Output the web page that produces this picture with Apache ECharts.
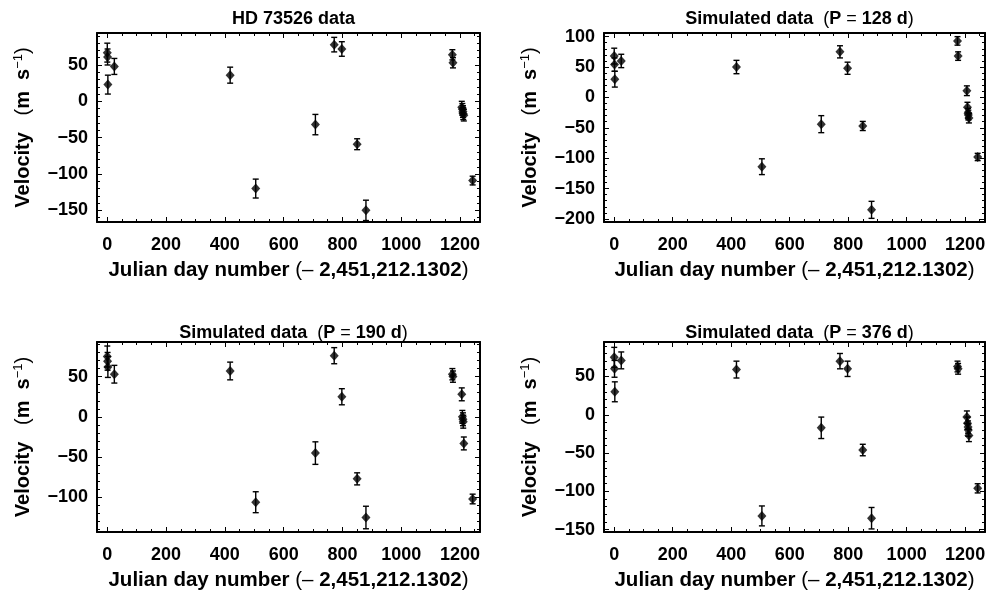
<!DOCTYPE html>
<html>
<head>
<meta charset="utf-8">
<script src="https://cdn.jsdelivr.net/npm/echarts@6/dist/echarts.min.js"></script>
<style>
html,body{margin:0;padding:0;background:#fff;}
#chart{width:991px;height:598px;}
</style>
</head>
<body>
<div id="chart"></div>
<script>
// ---- data ----
const days = [0, 1, 2, 24, 418, 505, 708, 772, 798, 850, 880, 1174, 1176, 1206, 1208, 1210, 1211, 1213, 1243];
const errors = [13, 11, 13, 11, 11, 13, 14, 10, 10, 7.5, 14, 7, 7, 8, 8, 8, 8, 8, 6];
const velHD  = [67, 61, 23, 48, 36, -120, -32, 78, 72, -59, -150, 64, 53, -8, -11, -14, -17, -19, -109];
const vel128 = [68, 54, 30, 60, 50, -114, -44, 75, 48, -47, -185, 93, 68, 11, -16, -26, -29, -34, -98];
const vel190 = [75, 69, 62, 53, 57, -106, -45, 76, 25, -77, -125, 53, 50, 28, 0, -3, -6, -33, -102];
const vel376 = [75, 60, 30, 71, 59, -132, -17, 70, 60, -46, -135, 63, 60, -3, -11, -16, -20, -27, -96];
const panelTitles = ['HD 73526 data', 'Simulated data (P = 128 d)', 'Simulated data (P = 190 d)', 'Simulated data (P = 376 d)'];
const periods = [null, '128', '190', '376'];
const xTickLabels = [0, 200, 400, 600, 800, 1000, 1200];
const yTickLabels = [
  [-150, -100, -50, 0, 50],
  [-200, -150, -100, -50, 0, 50, 100],
  [-100, -50, 0, 50],
  [-150, -100, -50, 0, 50]
];
const yRanges = [[-166, 94], [-205, 106], [-143, 93], [-153, 95]];
const xRange = [-35, 1268];

// ---- layout ----
const grids = [
  {left: 97, top: 33, width: 383, height: 189},
  {left: 604, top: 33, width: 381, height: 189},
  {left: 97, top: 342, width: 383, height: 190},
  {left: 604, top: 342, width: 381, height: 190}
];
const titleTops = [5, 5, 319, 319];
const FONT = '"Liberation Sans", Arial, Helvetica, sans-serif';
const TICKFS = 18;
const NAMEFS = 20.5;

function range(a, b, step) { const r = []; for (let v = a; v <= b + 1e-9; v += step) r.push(v); return r; }
const xMinor = range(0, 1250, 50);

const xAxes = [], yAxes = [], series = [], titles = [];
const allVel = [velHD, vel128, vel190, vel376];

grids.forEach((g, gi) => {
  const [ymin, ymax] = yRanges[gi];
  const yMinor = range(Math.ceil(ymin / 10) * 10, Math.floor(ymax / 10) * 10, 10);
  const base = xAxes.length;
  const common = {gridIndex: gi, type: 'value', min: xRange[0], max: xRange[1], splitLine: {show: false}};
  xAxes.push(Object.assign({}, common, {
    position: 'bottom',
    axisLine: {show: true, onZero: false, lineStyle: {color: '#000', width: 2}},
    axisTick: {show: true, inside: true, length: 5, customValues: xTickLabels, lineStyle: {color: '#000', width: 1}},
    axisLabel: {show: true, customValues: xTickLabels, margin: 14, color: '#000', fontFamily: FONT, fontWeight: 'bold', fontSize: TICKFS,
      formatter: v => String(v)},
    name: '{b|Julian day number }{n|(\u2013 }{b|2,451,212.1302}{n|)}',
    nameLocation: 'middle', nameGap: 38,
    nameTextStyle: {rich: {
      b: {fontFamily: FONT, fontWeight: 'bold', fontSize: NAMEFS, color: '#000'},
      n: {fontFamily: FONT, fontWeight: 'normal', fontSize: NAMEFS, color: '#000'}
    }}
  }));
  xAxes.push(Object.assign({}, common, {
    position: 'bottom', axisLine: {show: false, onZero: false},
    axisTick: {show: true, inside: true, length: 3, customValues: xMinor, lineStyle: {color: '#000', width: 1}},
    axisLabel: {show: false}
  }));
  xAxes.push(Object.assign({}, common, {
    position: 'top',
    axisLine: {show: true, onZero: false, lineStyle: {color: '#000', width: 2}},
    axisTick: {show: true, inside: true, length: 5, customValues: xTickLabels, lineStyle: {color: '#000', width: 1}},
    axisLabel: {show: false}
  }));
  xAxes.push(Object.assign({}, common, {
    position: 'top', axisLine: {show: false, onZero: false},
    axisTick: {show: true, inside: true, length: 3, customValues: xMinor, lineStyle: {color: '#000', width: 1}},
    axisLabel: {show: false}
  }));

  const ybase = yAxes.length;
  const ycommon = {gridIndex: gi, type: 'value', min: ymin, max: ymax, splitLine: {show: false}};
  yAxes.push(Object.assign({}, ycommon, {
    position: 'left',
    axisLine: {show: true, onZero: false, lineStyle: {color: '#000', width: 2}},
    axisTick: {show: true, inside: true, length: 5, customValues: yTickLabels[gi], lineStyle: {color: '#000', width: 1}},
    axisLabel: {show: true, customValues: yTickLabels[gi], margin: 9, color: '#000', fontFamily: FONT, fontWeight: 'bold', fontSize: TICKFS,
      formatter: v => String(v).replace('-', '\u2212')},
    name: '{b|Velocity   }{n|(}{b|m  s}{sup|\u22121}{n|)}',
    nameLocation: 'middle', nameGap: 63, nameRotate: 90,
    nameTextStyle: {rich: {
      b: {fontFamily: FONT, fontWeight: 'bold', fontSize: 20, color: '#000'},
      n: {fontFamily: FONT, fontWeight: 'normal', fontSize: 20, color: '#000'},
      sup: {fontFamily: FONT, fontWeight: 'normal', fontSize: 13, color: '#000', verticalAlign: 'top', padding: [0, 0, 9, 0]}
    }}
  }));
  yAxes.push(Object.assign({}, ycommon, {
    position: 'left', axisLine: {show: false, onZero: false},
    axisTick: {show: true, inside: true, length: 3, customValues: yMinor, lineStyle: {color: '#000', width: 1}},
    axisLabel: {show: false}
  }));
  yAxes.push(Object.assign({}, ycommon, {
    position: 'right',
    axisLine: {show: true, onZero: false, lineStyle: {color: '#000', width: 2}},
    axisTick: {show: true, inside: true, length: 5, customValues: yTickLabels[gi], lineStyle: {color: '#000', width: 1}},
    axisLabel: {show: false}
  }));
  yAxes.push(Object.assign({}, ycommon, {
    position: 'right', axisLine: {show: false, onZero: false},
    axisTick: {show: true, inside: true, length: 3, customValues: yMinor, lineStyle: {color: '#000', width: 1}},
    axisLabel: {show: false}
  }));

  const vel = allVel[gi];
  const pts = days.map((d, i) => [d, vel[i], errors[i]]);
  series.push({
    type: 'custom', xAxisIndex: base, yAxisIndex: ybase, data: pts, silent: true,
    encode: {x: 0, y: 1},
    renderItem: function (params, api) {
      const x = api.value(0), y = api.value(1), e = api.value(2);
      const hi = api.coord([x, y + e]);
      const lo = api.coord([x, y - e]);
      const st = {stroke: '#000', lineWidth: 1.4};
      return {type: 'group', children: [
        {type: 'line', shape: {x1: hi[0], y1: hi[1], x2: lo[0], y2: lo[1]}, style: st},
        {type: 'line', shape: {x1: hi[0] - 3, y1: hi[1], x2: hi[0] + 3, y2: hi[1]}, style: st},
        {type: 'line', shape: {x1: lo[0] - 3, y1: lo[1], x2: lo[0] + 3, y2: lo[1]}, style: st}
      ]};
    },
    z: 2
  });
  series.push({
    type: 'scatter', xAxisIndex: base, yAxisIndex: ybase,
    data: days.map((d, i) => [d, vel[i]]),
    symbol: 'diamond', symbolSize: [9, 10],
    itemStyle: {color: '#000'}, silent: true, z: 3
  });

  const titleText = periods[gi] === null
    ? '{b|' + panelTitles[gi] + '}'
    : '{b|Simulated data  }{n|(}{b|P }{n|= }{b|' + periods[gi] + ' d}{n|)}';
  titles.push({
    text: titleText,
    left: g.left + g.width / 2, top: titleTops[gi], textAlign: 'center',
    textStyle: {rich: {
      b: {fontFamily: FONT, fontWeight: 'bold', fontSize: 18, color: '#000'},
      n: {fontFamily: FONT, fontWeight: 'normal', fontSize: 18, color: '#000'}
    }}
  });
});

const chart = echarts.init(document.getElementById('chart'), null, {renderer: 'canvas'});
chart.setOption({
  animation: false,
  backgroundColor: '#fff',
  title: titles,
  grid: grids,
  xAxis: xAxes,
  yAxis: yAxes,
  series: series
});
</script>
</body>
</html>
